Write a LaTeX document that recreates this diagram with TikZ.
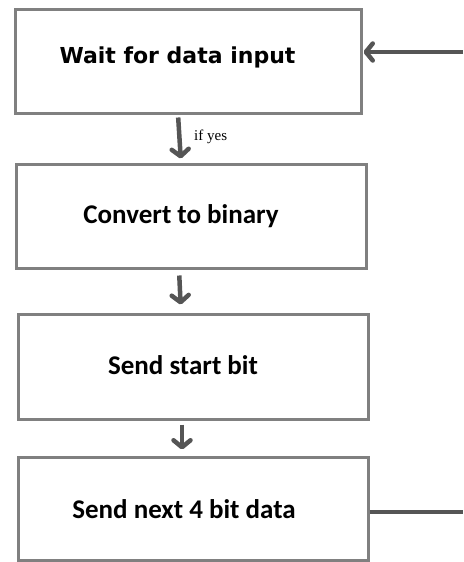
\documentclass[tikz,border=0pt]{standalone}
\usepackage{fontspec}
\setmainfont{Carlito}
\newfontfamily\verdfont{DejaVu Sans}
\newfontfamily\serfont{Liberation Serif}
\usetikzlibrary{arrows.meta}
\definecolor{boxgray}{RGB}{128,128,128}
\definecolor{arrgray}{RGB}{85,85,85}
\tikzset{
  box/.style={draw=boxgray, line width=3pt, minimum width=#1, inner sep=0pt},
  boxtext/.style={font=\bfseries\fontsize{27}{30}\selectfont, text=black, inner sep=0pt},
  arr/.style={draw=arrgray, line width=4.5pt, -{Straight Barb[length=7pt,width=17pt,line cap=round,line join=round]}},
  plain/.style={draw=arrgray, line width=4pt}
}
\begin{document}
\begin{tikzpicture}[x=1pt,y=-1pt]
\useasboundingbox (0,0) rectangle (463,562);
\node[box=346pt, minimum height=104pt] (b1) at (188,61) {};
\node[box=350pt, minimum height=104pt] (b2) at (191,216) {};
\node[box=350pt, minimum height=105pt] (b3) at (193,366.5) {};
\node[box=350pt, minimum height=103pt] (b4) at (193,508.5) {};
\node[boxtext, font=\verdfont\bfseries\fontsize{22}{26}\selectfont] (t1) at (177.5,57) {Wait for data input};
\node[boxtext] (t2) at (181,216) {Convert to binary};
\node[boxtext] (t3) at (183,365) {Send start bit};
\node[boxtext] (t4) at (184,509) {Send next 4 bit data};
\draw[arr, shorten <=3pt, shorten >=4pt] ([xshift=-10pt]b1.south) -- ([xshift=-10pt]b2.north);
\node[font=\serfont\fontsize{15}{16}\selectfont, inner sep=0pt, anchor=west] (ly) at (194,137) {if yes};
\draw[arr, shorten <=6pt, shorten >=8pt] ([xshift=-12pt]b2.south) -- ([xshift=-12pt]b3.north);
\draw[arr, shorten <=4pt, shorten >=6pt] ([xshift=-11pt]b3.south) -- ([xshift=-11pt]b4.north);
\coordinate (in) at (463,52);
\draw[arr, shorten >=1pt] (in) -- (in -| b1.east);
\coordinate (out) at (463,512);
\draw[plain] (out -| b4.east) -- (out);
\end{tikzpicture}
\end{document}
